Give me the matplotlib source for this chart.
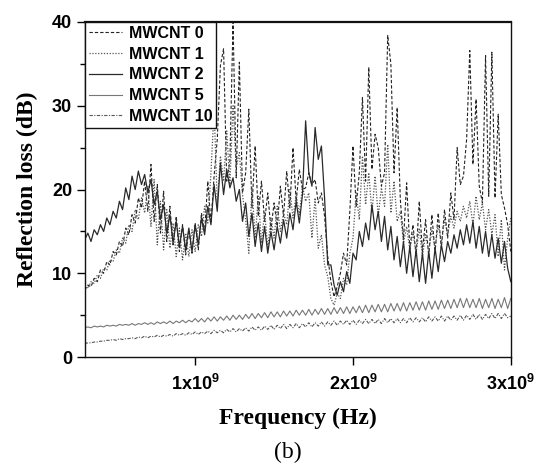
import matplotlib
matplotlib.use("Agg")
import matplotlib.pyplot as plt
import numpy as np
from matplotlib.ticker import FixedLocator, FuncFormatter, MultipleLocator

# frequency sweep 0.3 - 3.0 GHz, 136 points (20 MHz step)
freq_start_hz = 0.3e9
freq_stop_hz = 3.0e9
n_points = 136

series_labels = ["MWCNT 0", "MWCNT 1", "MWCNT 2", "MWCNT 5", "MWCNT 10"]

rl_mwcnt0 = [
    8.0, 8.6, 8.4, 9.4, 9.0, 10.4, 10.0, 11.4, 11.0, 12.6,
    12.2, 13.8, 13.2, 15.4, 14.6, 17.0, 16.0, 19.0, 17.8, 21.0,
    17.4, 23.0, 16.2, 20.6, 14.8, 19.8, 13.8, 18.0, 13.4, 16.8,
    12.6, 15.8, 12.2, 15.2, 12.4, 16.0, 12.8, 17.2, 15.0, 21.0,
    16.0, 21.6, 26.0, 34.8, 36.8, 21.0, 23.4, 40.0, 21.4, 35.2,
    19.6, 22.0, 29.6, 17.8, 25.2, 16.8, 21.0, 16.2, 19.6, 15.2,
    18.4, 15.6, 20.4, 16.8, 22.2, 17.8, 25.0, 18.6, 22.4, 20.0,
    20.2, 22.0, 20.6, 21.2, 18.4, 19.6, 16.8, 12.0, 9.0, 7.2,
    8.4, 10.0, 12.4, 11.0, 17.4, 25.2, 18.0, 22.0, 31.0, 21.0,
    34.6, 22.4, 26.6, 25.0, 20.4, 22.0, 38.4, 35.0, 22.0, 29.8,
    18.8, 14.0, 20.8, 13.0, 15.8, 12.2, 18.6, 12.6, 16.4, 12.0,
    17.0, 12.4, 17.2, 13.0, 17.6, 14.2, 19.6, 16.4, 25.0, 20.6,
    21.6, 26.0, 36.6, 23.0, 30.8, 20.4, 18.4, 36.0, 19.2, 36.4,
    19.0, 29.0, 19.4, 17.8, 15.8, 12.6,
]

rl_mwcnt1 = [
    8.6, 8.2, 9.0, 8.8, 9.8, 9.4, 10.6, 10.4, 11.6, 11.4,
    12.8, 12.4, 14.2, 13.6, 15.8, 15.0, 17.6, 16.4, 19.0, 17.2,
    20.4, 15.6, 21.2, 13.4, 18.6, 12.8, 17.6, 13.0, 16.0, 12.0,
    15.4, 11.6, 14.8, 12.0, 15.2, 12.6, 15.8, 14.4, 18.0, 16.0,
    22.0, 29.6, 18.4, 24.0, 21.0, 27.0, 20.6, 30.0, 22.6, 24.4,
    19.4, 16.4, 12.4, 20.2, 14.2, 19.2, 13.6, 17.4, 13.0, 16.6,
    14.2, 18.0, 15.0, 17.2, 15.8, 20.0, 16.6, 19.4, 17.0, 20.4,
    18.6, 19.6, 14.2, 19.0, 13.0, 14.6, 11.0, 9.6, 7.0, 6.2,
    7.6, 7.0, 9.4, 8.6, 12.4, 14.2, 19.6, 16.4, 24.0, 18.2,
    22.0, 17.2, 21.6, 16.8, 20.2, 18.0, 25.4, 17.2, 21.0, 16.2,
    17.4, 13.6, 15.6, 12.8, 14.8, 12.4, 15.4, 12.0, 14.6, 12.6,
    15.2, 13.0, 15.8, 13.6, 16.4, 14.6, 16.8, 15.4, 17.4, 16.2,
    18.0, 16.6, 18.6, 15.8, 19.2, 16.4, 18.4, 15.2, 17.6, 14.6,
    17.0, 12.0, 16.4, 10.4, 14.2, 16.6,
]

rl_mwcnt2 = [
    14.0, 14.8, 13.8, 15.2, 14.6, 15.8, 15.0, 16.6, 15.8, 17.4,
    16.6, 18.6, 17.6, 20.2, 18.8, 21.6, 20.0, 22.2, 20.6, 21.8,
    19.6, 21.2, 18.2, 19.8, 16.4, 18.2, 14.8, 17.0, 13.6, 16.2,
    13.2, 15.6, 12.8, 15.4, 12.6, 15.8, 13.4, 16.6, 14.6, 18.0,
    15.8, 20.6, 17.4, 23.2, 19.4, 22.4, 20.2, 21.4, 18.6, 20.0,
    16.2, 18.4, 14.4, 17.2, 13.2, 16.0, 12.6, 15.6, 12.4, 15.0,
    12.8, 15.6, 13.6, 16.4, 14.2, 17.2, 15.2, 18.6, 16.0, 19.4,
    28.2, 22.0, 20.4, 27.4, 23.6, 25.2, 19.0, 11.0, 11.0, 8.6,
    7.4, 9.0, 7.8, 10.2, 8.8, 12.4, 11.6, 15.0, 13.2, 16.0,
    14.0, 18.2, 15.2, 17.4, 13.8, 16.8, 12.8, 15.6, 11.6, 14.4,
    10.8, 13.8, 10.0, 13.2, 9.6, 12.8, 9.0, 12.4, 8.8, 12.6,
    9.4, 13.0, 10.2, 13.4, 11.4, 13.8, 12.4, 14.6, 13.0, 15.2,
    13.4, 15.8, 13.6, 16.2, 13.0, 15.6, 12.4, 15.0, 12.0, 14.6,
    11.8, 14.2, 11.2, 13.8, 10.6, 9.0,
]

rl_mwcnt5 = [
    3.5, 3.6, 3.5, 3.7, 3.6, 3.7, 3.6, 3.8, 3.7, 3.8,
    3.7, 3.9, 3.8, 3.9, 3.8, 4.0, 3.8, 4.0, 3.9, 4.1,
    3.9, 4.1, 3.9, 4.2, 4.0, 4.2, 4.0, 4.3, 4.0, 4.3,
    4.1, 4.4, 4.1, 4.4, 4.2, 4.6, 4.2, 4.6, 4.2, 4.7,
    4.3, 4.8, 4.3, 4.8, 4.4, 4.9, 4.4, 5.0, 4.5, 5.0,
    4.5, 5.1, 4.6, 5.2, 4.6, 5.2, 4.7, 5.3, 4.7, 5.4,
    4.8, 5.4, 4.8, 5.5, 4.9, 5.5, 4.9, 5.6, 5.0, 5.6,
    5.0, 5.7, 5.0, 5.7, 5.1, 5.8, 5.1, 5.8, 5.1, 5.9,
    5.2, 5.9, 5.2, 6.0, 5.2, 6.0, 5.3, 6.1, 5.3, 6.2,
    5.3, 6.2, 5.4, 6.3, 5.4, 6.3, 5.4, 6.4, 5.5, 6.4,
    5.5, 6.5, 5.5, 6.5, 5.6, 6.6, 5.6, 6.6, 5.6, 6.7,
    5.7, 6.7, 5.7, 6.8, 5.8, 6.8, 5.8, 6.9, 5.9, 7.0,
    5.9, 7.0, 5.9, 6.9, 5.9, 7.0, 5.8, 6.9, 5.9, 7.0,
    5.8, 6.9, 5.9, 7.1, 5.8, 7.0,
]

rl_mwcnt10 = [
    1.6, 1.7, 1.7, 1.8, 1.8, 1.9, 1.9, 2.0, 2.0, 2.1,
    2.0, 2.2, 2.1, 2.2, 2.2, 2.3, 2.2, 2.4, 2.3, 2.5,
    2.3, 2.5, 2.4, 2.6, 2.4, 2.6, 2.5, 2.7, 2.5, 2.8,
    2.6, 2.8, 2.6, 2.9, 2.7, 3.0, 2.7, 3.0, 2.8, 3.1,
    2.8, 3.2, 2.9, 3.2, 2.9, 3.3, 3.0, 3.4, 3.0, 3.4,
    3.1, 3.5, 3.1, 3.6, 3.2, 3.6, 3.2, 3.7, 3.3, 3.8,
    3.3, 3.8, 3.4, 3.9, 3.4, 3.9, 3.5, 4.0, 3.5, 4.0,
    3.6, 4.1, 3.6, 4.1, 3.7, 4.2, 3.7, 4.2, 3.8, 4.3,
    3.8, 4.3, 3.9, 4.4, 3.9, 4.4, 3.9, 4.4, 4.0, 4.5,
    4.0, 4.5, 4.0, 4.5, 4.0, 4.6, 4.1, 4.6, 4.1, 4.6,
    4.1, 4.6, 4.1, 4.7, 4.2, 4.7, 4.2, 4.7, 4.2, 4.8,
    4.3, 4.8, 4.3, 4.9, 4.3, 4.9, 4.4, 4.9, 4.4, 5.0,
    4.4, 5.0, 4.5, 5.1, 4.5, 5.1, 4.5, 5.1, 4.6, 5.2,
    4.6, 5.2, 4.6, 5.2, 4.7, 4.9,
]

x_ticks_hz = [1e9, 2e9, 3e9]
x_tick_labels = ["1x10$^{9}$", "2x10$^{9}$", "3x10$^{9}$"]


def main() -> None:
    plt.rcParams["mathtext.fontset"] = "custom"
    plt.rcParams["mathtext.bf"] = "Liberation Sans:bold"
    plt.rcParams["mathtext.rm"] = "Liberation Sans:bold"
    plt.rcParams["mathtext.default"] = "bf"

    freq = np.linspace(freq_start_hz, freq_stop_hz, n_points)
    all_series = [rl_mwcnt0, rl_mwcnt1, rl_mwcnt2, rl_mwcnt5, rl_mwcnt10]
    styles = [
        dict(color="#222222", lw=0.8, ls=(0, (3, 1.8))),
        dict(color="#555555", lw=0.9, ls=(0, (1, 1.3))),
        dict(color="#2a2a2a", lw=0.9, ls="-"),
        dict(color="#777777", lw=0.8, ls="-"),
        dict(color="#555555", lw=0.8, ls=(0, (3, 1.3, 1, 1.3))),
    ]

    fig = plt.figure(figsize=(5.36, 4.68), dpi=100)
    ax = fig.add_axes([0.158, 0.237, 0.795, 0.716])

    for label, values, style in zip(series_labels, all_series, styles):
        ax.plot(freq, values, label=label, **style)

    ax.set_xlim(freq_start_hz, freq_stop_hz)
    ax.set_ylim(0, 40)

    ax.xaxis.set_major_locator(FixedLocator(x_ticks_hz))
    ax.xaxis.set_major_formatter(FuncFormatter(lambda v, pos: x_tick_labels[x_ticks_hz.index(v)] if v in x_ticks_hz else ""))
    ax.yaxis.set_major_locator(MultipleLocator(10))
    ax.yaxis.set_minor_locator(MultipleLocator(5))

    ax.tick_params(axis="both", which="major", direction="out", length=6, width=1.0, pad=3)
    ax.tick_params(axis="y", which="minor", direction="out", length=3.5, width=1.0)
    for lab in ax.get_xticklabels() + ax.get_yticklabels():
        lab.set_fontfamily("Liberation Sans")
        lab.set_fontweight("bold")
        lab.set_fontsize(13)
    ax.tick_params(axis="x", pad=6)

    for name, spine in ax.spines.items():
        spine.set_linewidth(1.0)
        spine.set_color("#111111")
    ax.spines["top"].set_linewidth(1.6)

    ax.set_xlabel("Frequency (Hz)", fontfamily="Liberation Serif", fontweight="bold", fontsize=17, labelpad=10)
    ax.set_ylabel("Reflection loss (dB)", fontfamily="Liberation Serif", fontweight="bold", fontsize=17, labelpad=10)

    leg = ax.legend(
        loc="upper left",
        bbox_to_anchor=(0.0, 1.0),
        borderaxespad=0.0,
        prop={"family": "Liberation Sans", "weight": "bold", "size": 11.5},
        frameon=True,
        fancybox=False,
        framealpha=1.0,
        edgecolor="#111111",
        handlelength=2.1,
        handletextpad=0.4,
        labelspacing=0.36,
        borderpad=0.25,
    )
    leg.get_frame().set_linewidth(1.0)

    fig.text(0.537, 0.022, "(b)", fontfamily="Liberation Serif", fontsize=17, ha="center", va="baseline")

    fig.savefig("out.png", dpi=100)
    plt.close(fig)


if __name__ == "__main__":
    main()
